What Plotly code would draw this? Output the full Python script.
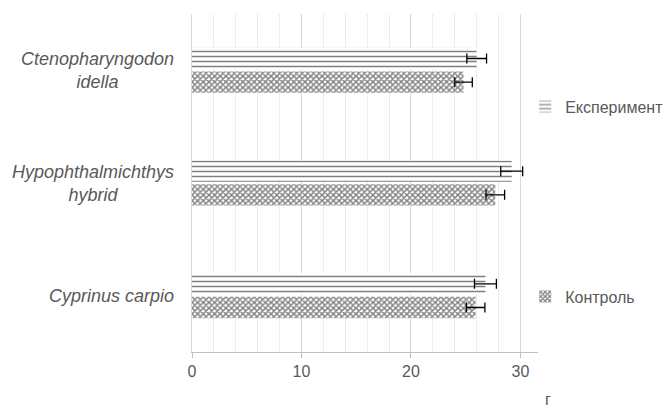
import plotly.graph_objects as go

categories = ["Cyprinus carpio", "Hypophthalmichthys<br>hybrid", "Ctenopharyngodon<br>idella"]
control = [25.9, 27.7, 24.8]
control_err = [0.85, 0.85, 0.8]
experiment = [26.8, 29.2, 26.0]
experiment_err = [1.0, 1.0, 0.9]
x_ticks = [0, 10, 20, 30]

font_family = "Liberation Sans, Open Sans, sans-serif"
text_color = "#595959"

fig = go.Figure()
fig.add_trace(go.Bar(
    y=categories, x=control, orientation="h", name="Контроль",
    legendgroup="c", legendrank=2,
    marker=dict(color="white", line=dict(width=0),
                pattern=dict(shape="x", fgcolor="#000000", bgcolor="white", size=4, solidity=0.6)),
    error_x=dict(type="data", array=control_err, color="black", thickness=1.3, width=5),
))
fig.add_trace(go.Bar(
    y=categories, x=experiment, orientation="h", name="Експеримент",
    legendgroup="e", legendrank=1,
    marker=dict(color="white", line=dict(width=0),
                pattern=dict(shape="-", fgcolor="#000000", bgcolor="white", size=5, solidity=0.3)),
    error_x=dict(type="data", array=experiment_err, color="black", thickness=1.3, width=5),
))

# page body has an 8px default margin: compensate so the chart sits at the same pixels
fig.update_layout(
    width=663, height=400,
    margin=dict(l=184, r=133, t=6, b=56, autoexpand=False),
    paper_bgcolor="white", plot_bgcolor="white",
    barmode="group", bargap=0.58, bargroupgap=0.1,
    font=dict(family=font_family, size=16, color=text_color),
    legend=dict(x=0.963, y=0.776, xanchor="left", yanchor="top",
                traceorder="grouped", tracegroupgap=166, itemwidth=30,
                font=dict(size=16, color=text_color), bgcolor="rgba(0,0,0,0)"),
    xaxis=dict(range=[0, 31.6], tickvals=x_ticks, ticktext=[str(v) for v in x_ticks],
               showgrid=True, gridcolor="#d9d9d9", gridwidth=1,
               minor=dict(dtick=2, showgrid=True, gridcolor="#ececec", gridwidth=1),
               showline=True, linecolor="#bfbfbf", linewidth=1,
               ticks="outside", ticklen=5, tickcolor="#bfbfbf",
               zeroline=False, automargin=False,
               tickfont=dict(size=16, color=text_color)),
    yaxis=dict(showline=True, linecolor="#d9d9d9", linewidth=1, showgrid=False,
               ticks="", ticklen=0, automargin=False, showticklabels=False),
)
# category labels: centred multi-line text, right edge near the axis
for cat in categories:
    fig.add_annotation(text=cat, xref="paper", yref="y", x=0, y=cat,
                       xanchor="right", yanchor="middle", align="center",
                       xshift=-16, showarrow=False,
                       font=dict(size=18, color=text_color, style="italic"))
fig.add_annotation(text="г", xref="paper", yref="paper", x=1.03, y=-0.14,
                   showarrow=False, xanchor="center", yanchor="middle",
                   font=dict(size=16, color=text_color))

fig.write_html("out.html")
